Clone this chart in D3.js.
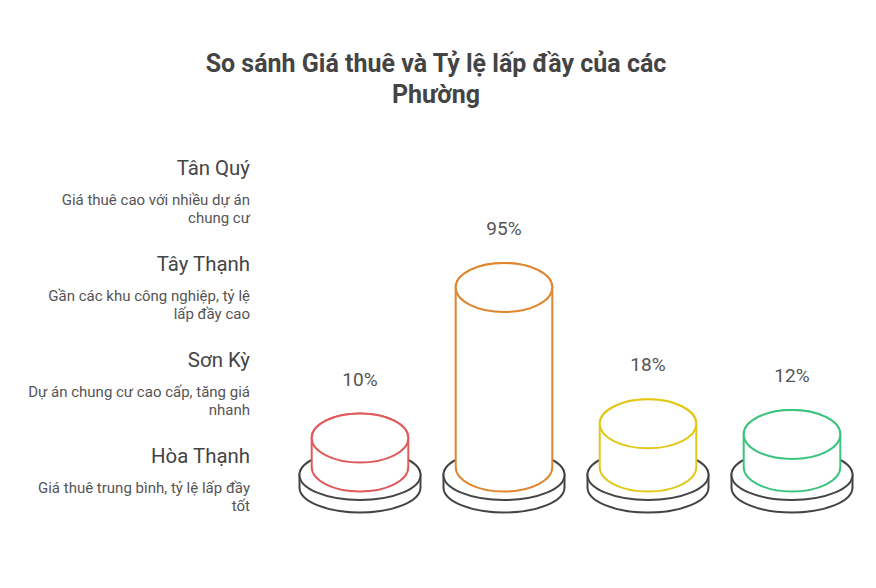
<!DOCTYPE html>
<html><head><meta charset="utf-8">
<script src="https://cdn.jsdelivr.net/npm/d3@7"></script>
<style>body{margin:0;background:#fff;font-family:Roboto,"Noto Sans",sans-serif;}</style>
</head><body>
<svg id="c" width="876" height="588"></svg>
<script>
const titleLines = ["So sánh Giá thuê và Tỷ lệ lấp đầy của các", "Phường"];
const categories = ["Tân Quý", "Tây Thạnh", "Sơn Kỳ", "Hòa Thạnh"];
const descriptions = [
  ["Giá thuê cao với nhiều dự án", "chung cư"],
  ["Gần các khu công nghiệp, tỷ lệ", "lấp đầy cao"],
  ["Dự án chung cư cao cấp, tăng giá", "nhanh"],
  ["Giá thuê trung bình, tỷ lệ lấp đầy", "tốt"]
];
const values = [10, 95, 18, 12];
const colors = ["#e05a5a", "#e0852e", "#e3c81a", "#3cc47e"];

const svg = d3.select("#c");
const baseY = 467;
const x = d3.scalePoint().domain(categories).range([360, 792]);
const y = d3.scaleLinear().domain([0, 100]).range([baseY - 11.3, baseY - 188.3]);
const rx = 48.3, ry = 24.5;
const prx = 60.5, pry = 25, plateTop = 475, plateH = 12.5;

// title
svg.append("g").selectAll("text").data(titleLines).join("text")
  .attr("x", 436).attr("y", (d, i) => 72 + i * 31)
  .attr("text-anchor", "middle").attr("font-size", 25).attr("font-weight", "bold")
  .attr("fill", "#444").text(d => d);

// left labels
const lg = svg.append("g");
categories.forEach((c, i) => {
  const y0 = 175 + i * 96;
  lg.append("text").attr("x", 250).attr("y", y0).attr("text-anchor", "end")
    .attr("font-size", 20.4).attr("fill", "#444").text(c);
  descriptions[i].forEach((l, j) => {
    lg.append("text").attr("x", 250).attr("y", y0 + 30 + j * 17.5).attr("text-anchor", "end")
      .attr("font-size", 15).attr("fill", "#555").text(l);
  });
});

function cylPath(cx, topY, botY, a, b) {
  return `M${cx - a},${topY} L${cx - a},${botY} A${a},${b} 0 0 0 ${cx + a},${botY} L${cx + a},${topY} A${a},${b} 0 0 0 ${cx - a},${topY} Z`;
}

const g = svg.append("g");
categories.forEach((c, i) => {
  const cx = x(c);
  const gg = g.append("g");
  // plate
  gg.append("path").attr("d", cylPath(cx, plateTop, plateTop + plateH, prx, pry))
    .attr("fill", "#fff").attr("stroke", "#444").attr("stroke-width", 2);
  gg.append("ellipse").attr("cx", cx).attr("cy", plateTop).attr("rx", prx).attr("ry", pry)
    .attr("fill", "#fff").attr("stroke", "#444").attr("stroke-width", 2);
  // cylinder
  const ty = y(values[i]);
  gg.append("path").attr("d", cylPath(cx, ty, baseY, rx, ry))
    .attr("fill", "#fff").attr("stroke", colors[i]).attr("stroke-width", 2);
  gg.append("ellipse").attr("cx", cx).attr("cy", ty).attr("rx", rx).attr("ry", ry)
    .attr("fill", "#fff").attr("stroke", colors[i]).attr("stroke-width", 2);
  gg.append("text").attr("x", cx).attr("y", ty - ry - 35 + 7)
    .attr("text-anchor", "middle").attr("font-size", 19).attr("fill", "#555")
    .text(values[i] + "%");
});
</script>
</body></html>
